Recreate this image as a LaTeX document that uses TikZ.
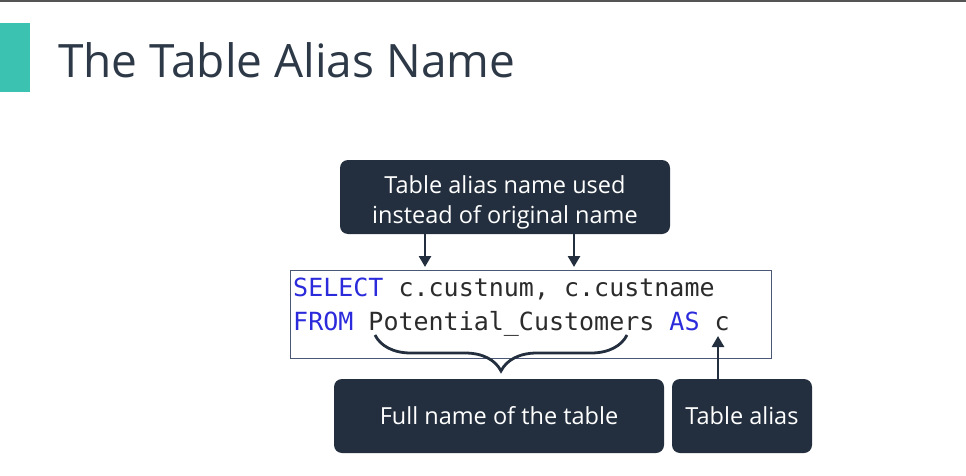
\documentclass[tikz,border=0pt]{standalone}
\usepackage{fontspec}
\setmainfont{Open Sans}
\setmonofont{DejaVu Sans Mono}
\usetikzlibrary{arrows.meta,decorations.pathreplacing}
\definecolor{ink}{HTML}{232F3E}
\definecolor{tealbar}{HTML}{3CC2B0}
\definecolor{kw}{HTML}{2B2BDB}
\definecolor{codetxt}{HTML}{2B2B2B}
\definecolor{codeframe}{HTML}{4A5775}
\definecolor{topline}{HTML}{555555}
\begin{document}
\begin{tikzpicture}[x=1pt,y=-1pt,
  box/.style={fill=ink, rounded corners=8pt, text=white, font=\fontsize{23.5}{30}\selectfont, align=center, inner sep=0pt},
  boxtext/.style={text=white, font=\fontsize{23.5}{30}\selectfont, align=center, inner sep=0pt},
  arr/.style={-{Triangle[length=11pt,width=12pt]}, line width=2.6pt, draw=ink},
  code/.style={anchor=base west, font=\ttfamily\fontsize{25}{30}\selectfont, text=codetxt, inner sep=0pt}]
\useasboundingbox (0,0) rectangle (966,476);
\draw[line width=2pt, topline] (0,1.5) -- (966,1.5);
\fill[tealbar] (0,23) rectangle (30,92);
\node[anchor=base west, inner sep=0pt, font=\fontsize{46}{50}\selectfont, text=ink!95] (title) at (58,78) {The Table Alias Name};
\node[box, minimum width=330pt, minimum height=74pt] (top) at (505,197) {};
\node[boxtext] (toptext) at (505,202) {Table alias name used\\instead of original name};
\node[draw=codeframe, line width=1pt, minimum width=481pt, minimum height=88pt, anchor=north west, inner sep=0pt] (codebox) at (290,270) {};
\node[code] (l1) at (293,296) {\textcolor{kw}{SELECT} c.custnum, c.custname};
\node[code] (l2) at (293,330) {\textcolor{kw}{FROM} Potential\_Customers \textcolor{kw}{AS} c};
\node[box, minimum width=330pt, minimum height=74pt] (full) at (499,416) {Full name of the table};
\node[box, minimum width=140pt, minimum height=74pt] (alias) at (742,416) {Table alias};
\coordinate (a1) at (425,267);
\coordinate (a2) at (574,267);
\coordinate (ac) at (718,336);
\coordinate (bl) at (375,335);
\coordinate (br) at (627,335);
\draw[arr] (top.south -| a1) -- (a1);
\draw[arr] (top.south -| a2) -- (a2);
\draw[arr] (alias.north -| ac) -- (ac);
\draw[ink, line width=2.8pt, decorate, decoration={brace, mirror, amplitude=36pt, aspect=0.5}] (bl) -- (br);
\end{tikzpicture}
\end{document}
